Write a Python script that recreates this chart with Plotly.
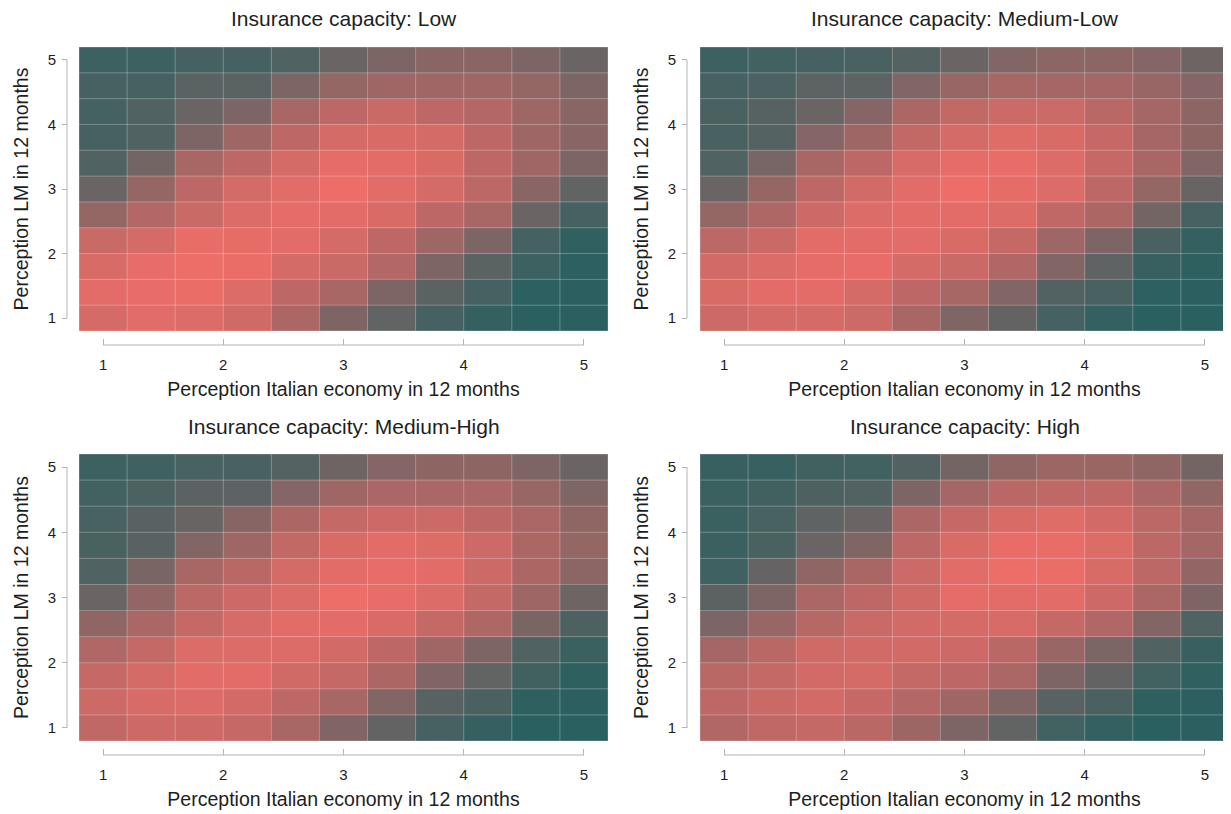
import plotly.graph_objects as go

# ---- data ----
x_vals = [1.0, 1.4, 1.8, 2.2, 2.6, 3.0, 3.4, 3.8, 4.2, 4.6, 5.0]
y_vals = [5.0, 4.6, 4.2, 3.8, 3.4, 3.0, 2.6, 2.2, 1.8, 1.4, 1.0]   # rows listed top -> bottom
tick_vals = [1, 2, 3, 4, 5]
tick_text = ["1", "2", "3", "4", "5"]
panel_titles = ["Insurance capacity: Low", "Insurance capacity: Medium-Low",
                "Insurance capacity: Medium-High", "Insurance capacity: High"]
x_title = "Perception Italian economy in 12 months"
y_title = "Perception LM in 12 months"

z_low = [
    [1.5, 1.5, 2.0, 2.0, 2.5, 4.0, 5.0, 5.5, 5.5, 5.0, 4.0],
    [2.0, 2.0, 3.0, 3.0, 5.0, 6.0, 6.5, 6.5, 6.5, 6.0, 5.0],
    [2.0, 2.5, 4.0, 5.0, 7.0, 8.0, 8.5, 8.0, 7.5, 6.5, 5.5],
    [2.0, 2.5, 5.0, 6.5, 8.0, 9.0, 9.2, 9.0, 8.0, 6.5, 5.5],
    [2.5, 4.5, 7.0, 8.0, 9.0, 9.7, 9.6, 9.2, 8.0, 6.5, 5.0],
    [4.0, 6.0, 8.0, 9.0, 9.5, 10.0, 9.5, 9.0, 8.0, 5.5, 3.5],
    [6.0, 7.5, 8.5, 9.3, 9.7, 9.6, 9.2, 8.0, 7.0, 4.0, 2.0],
    [8.5, 9.0, 9.8, 9.7, 9.5, 9.0, 8.0, 6.5, 5.0, 2.0, 0.7],
    [9.2, 9.8, 10.0, 9.9, 9.0, 8.5, 7.5, 5.0, 3.0, 1.5, 0.3],
    [9.6, 9.8, 9.9, 9.3, 8.0, 7.0, 5.0, 3.0, 2.0, 0.3, 0.2],
    [9.0, 9.5, 9.3, 8.8, 7.2, 5.0, 3.5, 2.0, 1.0, 0.0, 0.2],
]
z_medlow = [
    [1.5, 1.8, 2.0, 2.2, 2.7, 4.0, 5.2, 5.6, 5.6, 5.3, 4.2],
    [2.0, 2.3, 3.2, 3.2, 5.2, 6.2, 7.0, 6.8, 6.8, 6.2, 5.3],
    [2.2, 2.8, 4.0, 5.3, 7.2, 8.2, 8.6, 8.6, 7.8, 6.8, 5.6],
    [2.2, 2.7, 5.3, 6.5, 8.2, 9.0, 9.4, 9.2, 8.4, 6.8, 5.7],
    [2.5, 4.7, 7.0, 8.0, 9.1, 9.7, 9.8, 9.3, 8.4, 7.0, 5.2],
    [4.0, 6.0, 8.0, 8.9, 9.5, 10.0, 9.7, 9.3, 8.0, 6.0, 3.9],
    [6.0, 7.3, 8.6, 9.3, 9.6, 9.6, 9.3, 8.1, 7.2, 4.5, 2.0],
    [7.9, 8.5, 9.6, 9.6, 9.5, 9.2, 8.3, 6.5, 5.0, 2.2, 1.0],
    [8.9, 9.3, 9.7, 9.8, 9.0, 8.5, 7.4, 5.2, 3.4, 1.2, 0.4],
    [9.2, 9.6, 9.6, 9.0, 8.0, 6.9, 5.2, 2.6, 2.2, 0.3, 0.2],
    [8.6, 9.0, 9.0, 8.6, 7.0, 5.1, 3.6, 2.0, 0.9, 0.0, 0.1],
]
z_medhigh = [
    [1.5, 1.6, 2.1, 2.2, 2.7, 4.2, 5.3, 5.7, 5.7, 5.0, 4.0],
    [1.8, 2.3, 3.1, 3.2, 5.3, 6.5, 7.1, 7.1, 7.1, 6.2, 5.1],
    [2.1, 2.9, 3.9, 5.4, 7.2, 8.3, 8.7, 8.6, 8.0, 7.1, 5.8],
    [2.2, 2.9, 5.2, 6.5, 8.2, 9.2, 9.5, 9.3, 8.6, 7.2, 6.0],
    [2.5, 4.8, 7.0, 7.8, 9.0, 9.6, 9.8, 9.6, 8.6, 7.2, 5.6],
    [4.0, 5.9, 7.9, 8.7, 9.3, 10.0, 9.8, 9.3, 8.3, 6.5, 4.2],
    [5.8, 7.1, 8.3, 9.1, 9.5, 9.6, 9.2, 8.3, 7.3, 4.8, 2.4],
    [7.4, 8.3, 9.3, 9.3, 9.3, 8.9, 8.0, 6.5, 5.0, 2.5, 1.4],
    [8.4, 9.0, 9.5, 9.6, 8.8, 8.3, 7.2, 5.1, 3.5, 1.7, 0.5],
    [8.6, 9.1, 9.3, 8.9, 7.9, 6.9, 5.2, 2.9, 2.2, 0.5, 0.2],
    [8.1, 8.7, 8.7, 8.3, 7.0, 5.1, 3.6, 2.0, 1.1, 0.0, 0.1],
]
z_high = [
    [1.3, 1.3, 1.7, 1.8, 2.6, 4.5, 5.8, 6.4, 6.3, 5.8, 4.5],
    [1.4, 1.7, 2.4, 2.6, 5.0, 6.8, 7.8, 8.1, 8.1, 7.1, 5.9],
    [1.4, 2.1, 3.3, 4.0, 7.1, 8.4, 9.2, 9.4, 8.9, 7.9, 6.8],
    [1.4, 2.1, 4.0, 5.1, 7.9, 9.2, 9.8, 9.8, 9.3, 7.9, 6.8],
    [1.6, 3.7, 5.8, 7.0, 8.6, 9.5, 10.0, 9.9, 9.2, 7.9, 5.9],
    [3.1, 5.0, 7.1, 8.0, 8.8, 9.7, 9.6, 9.5, 8.7, 7.1, 5.0],
    [5.0, 6.2, 7.6, 8.5, 8.9, 9.0, 9.1, 8.3, 7.4, 5.2, 2.5],
    [6.8, 7.8, 8.8, 8.9, 8.9, 8.7, 7.8, 6.2, 4.9, 2.5, 1.3],
    [7.8, 8.3, 8.9, 9.0, 8.3, 8.0, 7.1, 5.0, 3.6, 1.8, 0.6],
    [8.0, 8.5, 8.9, 8.4, 7.5, 6.5, 5.1, 2.9, 2.2, 0.5, 0.2],
    [7.4, 8.1, 8.3, 7.8, 6.4, 5.0, 3.5, 1.8, 1.0, 0.0, 0.2],
]
panels_z = [z_low, z_medlow, z_medhigh, z_high]

# ---- style ----
level_colors = ["#2a6060", "#346060", "#466161", "#5a6262", "#6a6464", "#7e6565",
                "#946664", "#a86765", "#bd6866", "#d46b67", "#ed6d68"]
colorscale = [[i / 10, c] for i, c in enumerate(level_colors)]
FONT = "Liberation Sans, Arial, Helvetica, sans-serif"
AXIS_GRAY = "#b4b4b4"
TXT = "#1e1e1e"
OFF = 8                      # page body margin
W, H = 1231 - OFF, 814 - OFF


def px(v):
    return (v - OFF) / W


def py(v):
    return 1 - (v - OFF) / H


x_dom = [[px(79), px(608)], [px(700), px(1229)]]
y_dom = [[py(331), py(47)], [py(741), py(454)]]
x_line_pos = [py(345), py(755)]
y_line_pos = [px(67), px(687)]
title_y = [py(18), py(426)]

step = x_vals[1] - x_vals[0]
x_edges = [x_vals[0] - step / 2 + step * k for k in range(len(x_vals) + 1)]
y_sorted = sorted(y_vals)
y_edges = [y_sorted[0] - step / 2 + step * k for k in range(len(y_sorted) + 1)]

fig = go.Figure()
shapes = []
annotations = []
for i, z in enumerate(panels_z):
    r, c = divmod(i, 2)
    n = i + 1
    xa = "x" if n == 1 else f"x{n}"
    ya = "y" if n == 1 else f"y{n}"
    fig.add_trace(go.Heatmap(
        x=x_vals, y=y_vals, z=z, xaxis=xa, yaxis=ya,
        colorscale=colorscale, zmin=0, zmax=10, showscale=False,
        hoverinfo="skip",
    ))
    xkey = "xaxis" if n == 1 else f"xaxis{n}"
    ykey = "yaxis" if n == 1 else f"yaxis{n}"
    fig.layout[xkey] = dict(
        domain=x_dom[c], range=[x_edges[0], x_edges[-1]], anchor="free",
        position=x_line_pos[r], showgrid=False, zeroline=False, showline=False,
        tickvals=tick_vals, ticktext=tick_text, ticks="inside", ticklen=6,
        tickcolor=AXIS_GRAY, tickwidth=1, ticklabelstandoff=9,
        tickfont=dict(family=FONT, size=15, color=TXT),
        title=dict(text=x_title, font=dict(family=FONT, size=19.5, color=TXT), standoff=10),
    )
    fig.layout[ykey] = dict(
        domain=y_dom[r], range=[y_edges[0], y_edges[-1]], anchor="free",
        position=y_line_pos[c], showgrid=False, zeroline=False, showline=False,
        tickvals=tick_vals, ticktext=tick_text, ticks="outside", ticklen=5,
        tickcolor=AXIS_GRAY, tickwidth=1, ticklabelstandoff=3,
        tickfont=dict(family=FONT, size=15, color=TXT),
        title=dict(text=y_title, font=dict(family=FONT, size=19.5, color=TXT), standoff=12),
    )
    # capped axis lines
    shapes.append(dict(type="line", xref=xa, yref="paper", x0=tick_vals[0], x1=tick_vals[-1],
                       y0=x_line_pos[r], y1=x_line_pos[r], line=dict(color=AXIS_GRAY, width=1)))
    shapes.append(dict(type="line", xref="paper", yref=ya, x0=y_line_pos[c], x1=y_line_pos[c],
                       y0=tick_vals[0], y1=tick_vals[-1], line=dict(color=AXIS_GRAY, width=1)))
    # cell borders
    for xe in x_edges:
        shapes.append(dict(type="line", xref=xa, yref=ya, x0=xe, x1=xe, y0=y_edges[0], y1=y_edges[-1],
                           line=dict(color="rgba(255,255,255,0.28)", width=1), layer="above"))
    for ye in y_edges:
        shapes.append(dict(type="line", xref=xa, yref=ya, x0=x_edges[0], x1=x_edges[-1], y0=ye, y1=ye,
                           line=dict(color="rgba(255,255,255,0.28)", width=1), layer="above"))
    annotations.append(dict(text=panel_titles[i], xref="paper", yref="paper",
                            x=sum(x_dom[c]) / 2, y=title_y[r], xanchor="center", yanchor="middle",
                            showarrow=False, font=dict(family=FONT, size=21, color=TXT)))

fig.update_layout(
    width=W, height=H, autosize=False,
    margin=dict(l=0, r=0, t=0, b=0),
    paper_bgcolor="white", plot_bgcolor="white",
    shapes=shapes, annotations=annotations, showlegend=False,
)
fig.write_html("out.html")
